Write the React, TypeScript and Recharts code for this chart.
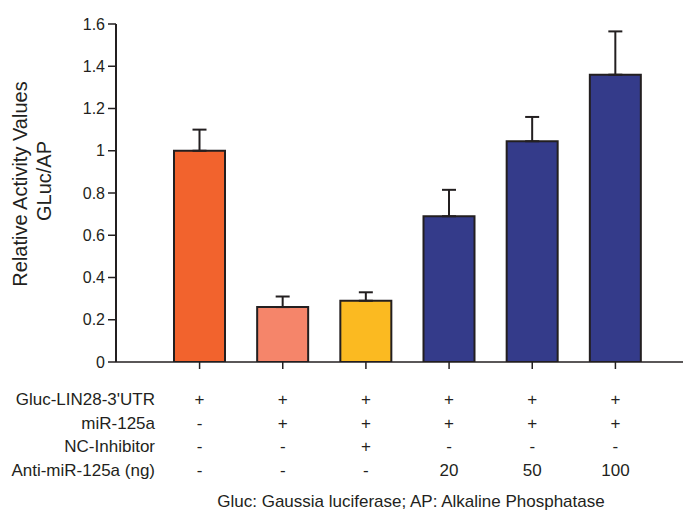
import React from 'react';
import { BarChart, Bar, XAxis, YAxis, Cell, ErrorBar } from 'recharts';

const categories = ['c1', 'c2', 'c3', 'c4', 'c5', 'c6'];
const values = [1.0, 0.26, 0.29, 0.69, 1.045, 1.36];
const errors = [0.10, 0.05, 0.04, 0.125, 0.115, 0.205];
const barColors = ['#F2632D', '#F5856A', '#FBBA21', '#343B8A', '#343B8A', '#343B8A'];
const yTicks = [0, 0.2, 0.4, 0.6, 0.8, 1, 1.2, 1.4, 1.6];

const rowLabels = ["Gluc-LIN28-3'UTR", 'miR-125a', 'NC-Inhibitor', 'Anti-miR-125a (ng)'];
const rowGluc = ['+', '+', '+', '+', '+', '+'];
const rowMir = ['-', '+', '+', '+', '+', '+'];
const rowNC = ['-', '-', '+', '-', '-', '-'];
const rowAnti = ['-', '-', '-', '20', '50', '100'];
const rows = [rowGluc, rowMir, rowNC, rowAnti];

const yLabelLines = ['Relative Activity Values', 'GLuc/AP'];
const footnote = 'Gluc: Gaussia luciferase; AP: Alkaline Phosphatase';

const data = categories.map((c, i) => ({
  name: c,
  value: values[i],
  err: [0, errors[i]],
}));

const FONT = '"Liberation Sans", Arial, sans-serif';
const INK = '#231F20';
const rowBaselines = [405, 428.5, 452, 476];

const TableTick = (props: any) => {
  const { x, payload } = props;
  const idx = payload.index;
  return (
    <g>
      {rows.map((r, ri) => (
        <text
          key={ri}
          x={x}
          y={rowBaselines[ri]}
          textAnchor="middle"
          fontSize={17}
          fontFamily={FONT}
          fill={INK}
        >
          {r[idx]}
        </text>
      ))}
      {idx === 0 && (
        <g>
          {rowLabels.map((l, ri) => (
            <text
              key={l}
              x={155}
              y={rowBaselines[ri]}
              textAnchor="end"
              fontSize={17}
              fontFamily={FONT}
              fill={INK}
            >
              {l}
            </text>
          ))}
          <text x={411} y={507} textAnchor="middle" fontSize={17} fontFamily={FONT} fill={INK}>
            {footnote}
          </text>
          <text
            x={0}
            y={0}
            transform="translate(27,184) rotate(-90)"
            textAnchor="middle"
            fontSize={20}
            fontFamily={FONT}
            fill={INK}
          >
            {yLabelLines[0]}
          </text>
          <text
            x={0}
            y={0}
            transform="translate(51,181) rotate(-90)"
            textAnchor="middle"
            fontSize={20}
            fontFamily={FONT}
            fill={INK}
          >
            {yLabelLines[1]}
          </text>
        </g>
      )}
    </g>
  );
};

export default function App() {
  return (
    <div style={{ position: 'absolute', left: 0, top: 0, background: '#fff' }}>
      <BarChart
        width={683}
        height={510}
        data={data}
        margin={{ top: 24, right: 0, bottom: 8, left: 0 }}
        barSize={51}
      >
        <XAxis
          dataKey="name"
          height={140}
          padding={{ left: 42, right: 26 }}
          axisLine={{ stroke: INK, strokeWidth: 1.5 }}
          tickLine={{ stroke: INK, strokeWidth: 1.5 }}
          tickSize={7}
          tick={<TableTick />}
          interval={0}
        />
        <YAxis
          width={116}
          domain={[0, 1.6]}
          ticks={yTicks}
          allowDataOverflow
          axisLine={{ stroke: INK, strokeWidth: 2 }}
          tickLine={{ stroke: INK, strokeWidth: 1.5 }}
          tickSize={8}
          tickMargin={3}
          tick={{ fill: INK, fontSize: 16, fontFamily: FONT }}
          tickFormatter={(v: number) => String(v)}
        />
        <Bar dataKey="value" isAnimationActive={false} stroke={INK} strokeWidth={2}>
          {data.map((d, i) => (
            <Cell key={d.name} fill={barColors[i]} />
          ))}
          <ErrorBar dataKey="err" width={7} stroke={INK} strokeWidth={2} direction="y" />
        </Bar>
      </BarChart>
    </div>
  );
}
